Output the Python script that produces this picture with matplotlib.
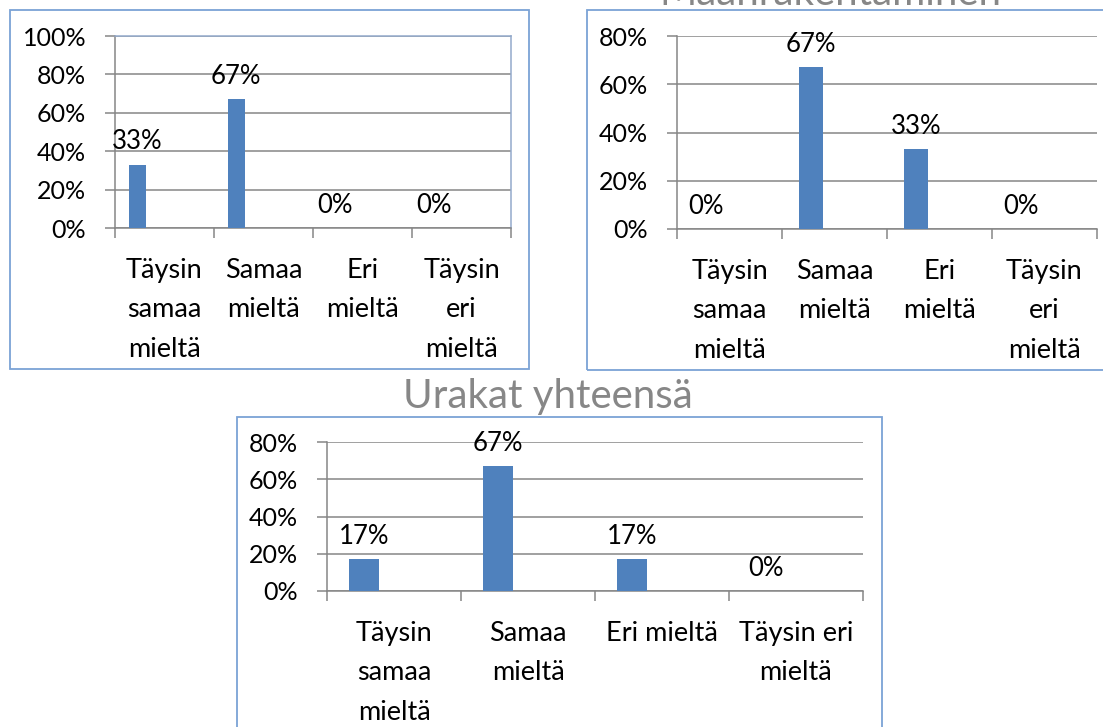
#!/usr/bin/env python3
"""Three survey bar panels: first panel, Maanrakentaminen, Urakat yhteensä."""
import numpy as np
import matplotlib
matplotlib.use('Agg')
import matplotlib.pyplot as plt
from matplotlib.patches import Rectangle

#-------------------------------------------------------------------------#
# Data                                                                    #
#-------------------------------------------------------------------------#
labels_narrow = ['Täysin\nsamaa\nmieltä', 'Samaa\nmieltä', 'Eri\nmieltä',
                 'Täysin\neri\nmieltä']
labels_wide   = ['Täysin\nsamaa\nmieltä', 'Samaa\nmieltä', 'Eri mieltä',
                 'Täysin eri\nmieltä']
values_left   = [0.33, 0.67, 0.0, 0.0]
values_maan   = [0.0, 0.67, 0.33, 0.0]
values_total  = [0.17, 0.67, 0.17, 0.0]
title_maan    = 'Maanrakentaminen'
title_total   = 'Urakat yhteensä'

#-------------------------------------------------------------------------#
# Plot settings                                                           #
#-------------------------------------------------------------------------#
plt.rcParams['font.family'] = ['Lato', 'DejaVu Sans']
W, H        = 1103, 727
fs_data     = 18.5
fs_ytick    = 18
fs_cat      = 19.5
bar_color   = '#4F81BD'
grid_color  = '#868686'
frame_color = '#7BA3D6'
title_color = '#878787'

fig = plt.figure(figsize=(W/100, H/100), dpi=100)

def px_axes(x0, y0, x1, y1):
    return fig.add_axes([x0/W, 1 - y1/H, (x1 - x0)/W, (y1 - y0)/H])

def frame(x0, y0, x1, y1):
    fig.add_artist(Rectangle((x0/W, 1 - y1/H), (x1 - x0)/W, (y1 - y0)/H,
                             transform=fig.transFigure, fill=False,
                             ec=frame_color, lw=1.3))

def draw_panel(ax, labels, values, ymax, off, width):
    x = np.arange(len(values)) - 0.5 + off
    ax.bar(x, values, width=width, color=bar_color, zorder=3)
    for xi, v in zip(x, values):
        ax.annotate('%d%%' % round(v*100), (xi, v), xytext=(0, 11),
                    textcoords='offset points', ha='center', va='baseline',
                    fontsize=fs_data, zorder=4)
    ax.set_xlim(-0.5, len(values) - 0.5)
    ax.set_ylim(0, ymax)
    ax.set_yticks(np.arange(0, ymax + 0.01, 0.2))
    ax.yaxis.set_major_formatter(lambda v, p: '%d%%' % round(v*100))
    ax.yaxis.grid(True, color=grid_color, lw=1.1)
    ax.set_axisbelow(True)
    ax.set_xticks(np.arange(len(labels)), labels)
    ax.set_xticks(np.arange(-0.5, len(labels)), minor=True)
    ax.tick_params(axis='x', which='major', length=0, pad=21.5,
                   labelsize=fs_cat)
    ax.tick_params(axis='x', which='minor', length=7.2, width=1.1,
                   color=grid_color)
    ax.tick_params(axis='y', length=7.2, width=1.1, color=grid_color,
                   pad=13.5, labelsize=fs_ytick)
    for lab in ax.get_xticklabels():
        lab.set_linespacing(1.72)
    ax.spines['top'].set_visible(False)
    ax.spines['right'].set_visible(False)
    for s in ['left', 'bottom']:
        ax.spines[s].set_color(grid_color)
        ax.spines[s].set_linewidth(1.1)
    ax.set_facecolor('none')

#-------------------------------------------------------------------------#
# Panel frames                                                            #
#-------------------------------------------------------------------------#
frame(10, 10, 529, 369)
frame(587, 10, 1115, 370)
frame(237, 417, 882, 745)

#-------------------------------------------------------------------------#
# Top left panel                                                          #
#-------------------------------------------------------------------------#
ax1 = px_axes(115, 36, 511, 228)
draw_panel(ax1, labels_narrow, values_left, 1.0, 0.225, 0.175)
for s in ['top', 'right']:
    ax1.spines[s].set_visible(True)
    ax1.spines[s].set_color('#93AACB')
    ax1.spines[s].set_linewidth(1.1)

#-------------------------------------------------------------------------#
# Top right panel                                                         #
#-------------------------------------------------------------------------#
ax2 = px_axes(677, 36, 1097, 229)
draw_panel(ax2, labels_narrow, values_maan, 0.8, 0.276, 0.222)
fig.text(830/W, 1 - 5/H, title_maan, ha='center', va='baseline',
         fontsize=29, color=title_color)

#-------------------------------------------------------------------------#
# Bottom panel                                                            #
#-------------------------------------------------------------------------#
ax3 = px_axes(327, 442, 863, 591)
draw_panel(ax3, labels_wide, values_total, 0.8, 0.276, 0.224)
fig.text(547.5/W, 1 - 408/H, title_total, ha='center', va='baseline',
         fontsize=29, color=title_color)

fig.savefig('out.png', dpi=100)
